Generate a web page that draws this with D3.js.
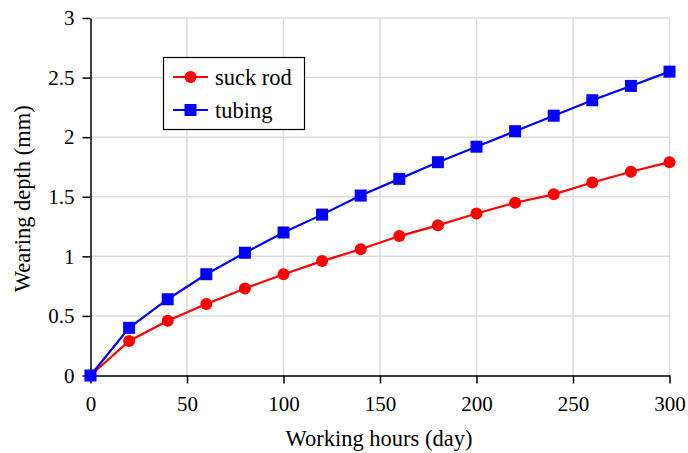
<!DOCTYPE html>
<html lang="en">
<head>
<meta charset="UTF-8">
<title>Wearing depth</title>
<script src="https://cdn.jsdelivr.net/npm/d3@7/dist/d3.min.js"></script>
<style>
  body { margin: 0; background: #fff; }
</style>
</head>
<body>
<svg id="chart" width="688" height="453"></svg>
<script>
// data
var hours = [0, 20, 40, 60, 80, 100, 120, 140, 160, 180, 200, 220, 240, 260, 280, 300];
var suckRod = [0, 0.29, 0.46, 0.60, 0.73, 0.85, 0.96, 1.06, 1.17, 1.26, 1.36, 1.45, 1.52, 1.62, 1.71, 1.79];
var tubing = [0, 0.40, 0.64, 0.85, 1.03, 1.20, 1.35, 1.51, 1.65, 1.79, 1.92, 2.05, 2.18, 2.31, 2.43, 2.55];
var xTicks = [0, 50, 100, 150, 200, 250, 300];
var yTicks = [0, 0.5, 1, 1.5, 2, 2.5, 3];

var FONT = "'Liberation Serif'";
var svg = d3.select("#chart");
var pLeft = 90.5, pRight = 669.5, pTop = 18, pBottom = 375.5;

var x = d3.scaleLinear().domain([0, 300]).range([pLeft, pRight]);
var y = d3.scaleLinear().domain([0, 3]).range([pBottom, pTop]);

// grid
svg.append("g").selectAll("line").data(xTicks.slice(1)).enter().append("line")
  .attr("x1", d => x(d)).attr("x2", d => x(d))
  .attr("y1", pTop).attr("y2", pBottom)
  .attr("stroke", "#dcdcdc").attr("stroke-width", 1.5);
svg.append("g").selectAll("line").data(yTicks.slice(1)).enter().append("line")
  .attr("x1", pLeft).attr("x2", pRight)
  .attr("y1", d => y(d)).attr("y2", d => y(d))
  .attr("stroke", "#dcdcdc").attr("stroke-width", 1.5);

// axes
var xAxis = svg.append("g").attr("transform", "translate(0," + pBottom + ")")
  .call(d3.axisBottom(x).tickValues(xTicks).tickSize(8).tickSizeOuter(0).tickPadding(13).tickFormat(d3.format("")));
var yAxis = svg.append("g").attr("transform", "translate(" + pLeft + ",0)")
  .call(d3.axisLeft(y).tickValues(yTicks).tickSize(8).tickSizeOuter(0).tickPadding(8).tickFormat(d3.format("")));
[xAxis, yAxis].forEach(function(a) {
  a.attr("font-family", null).attr("font-size", null);
  a.select(".domain").attr("stroke", "#000").attr("stroke-width", 1.5);
  a.selectAll(".tick line").attr("stroke", "#000").attr("stroke-width", 1.5);
  a.selectAll(".tick text").attr("fill", "#000").style("font-size", "21px").style("font-family", FONT);
});

svg.append("text").attr("x", (pLeft + pRight) / 2 - 1).attr("y", 446)
  .attr("text-anchor", "middle").style("font-family", FONT).style("font-size", "22.5px").text("Working hours (day)");
svg.append("text").attr("transform", "translate(30," + ((pTop + pBottom) / 2 + 2) + ") rotate(-90)")
  .attr("text-anchor", "middle").style("font-family", FONT).style("font-size", "22.5px").text("Wearing depth (mm)");

var line = d3.line().x((d, i) => x(hours[i])).y(d => y(d));

var series = [
  { name: "suck rod", values: suckRod, color: "#ff0000", shape: "circle" },
  { name: "tubing", values: tubing, color: "#0000ff", shape: "square" }
];

function marker(g, shape, color, cx, cy) {
  if (shape === "circle") {
    g.append("circle").attr("cx", cx).attr("cy", cy).attr("r", 6).attr("fill", color);
  } else {
    g.append("rect").attr("x", cx - 6).attr("y", cy - 6).attr("width", 12).attr("height", 12).attr("fill", color);
  }
}

series.forEach(function(s) {
  var g = svg.append("g");
  g.append("path").datum(s.values).attr("d", line)
    .attr("fill", "none").attr("stroke", s.color).attr("stroke-width", 2.2);
  s.values.forEach(function(v, i) { marker(g, s.shape, s.color, x(hours[i]), y(v)); });
});

// legend
var lg = svg.append("g");
lg.append("rect").attr("x", 163.5).attr("y", 57.5).attr("width", 141).attr("height", 72)
  .attr("fill", "#fff").attr("stroke", "#000").attr("stroke-width", 1.2);
series.forEach(function(s, i) {
  var ly = 77 + i * 33;
  lg.append("line").attr("x1", 173).attr("x2", 208).attr("y1", ly).attr("y2", ly)
    .attr("stroke", s.color).attr("stroke-width", 2.2);
  marker(lg, s.shape, s.color, 190.5, ly);
  lg.append("text").attr("x", 215).attr("y", ly + 8)
    .style("font-family", FONT).style("font-size", "22.5px").text(s.name);
});
</script>
</body>
</html>
